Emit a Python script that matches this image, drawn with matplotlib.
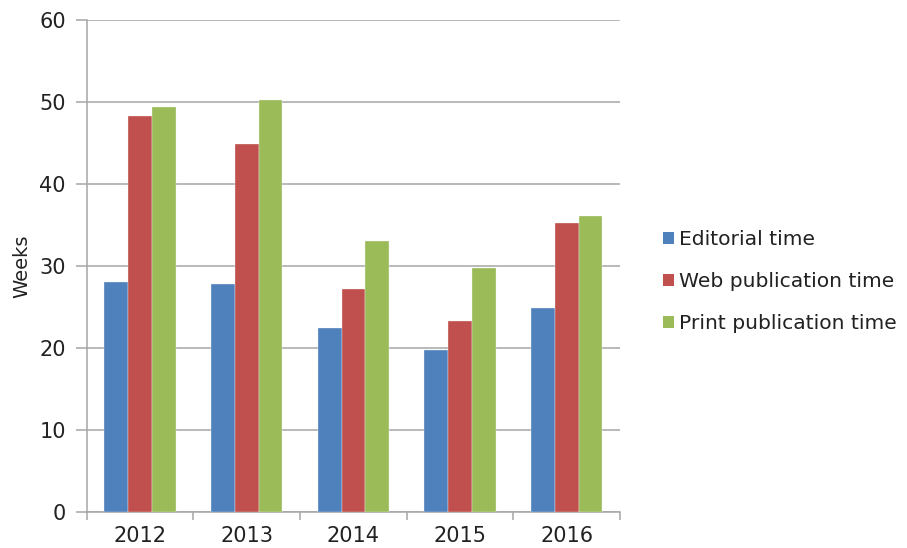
import numpy as np
import matplotlib
matplotlib.use("Agg")
import matplotlib.pyplot as plt
from matplotlib.patches import Patch

years = ["2012", "2013", "2014", "2015", "2016"]
editorial = [28.1, 27.9, 22.5, 19.8, 24.9]
web_pub = [48.3, 44.9, 27.2, 23.3, 35.3]
print_pub = [49.4, 50.3, 33.1, 29.8, 36.1]

series_names = ["Editorial time", "Web publication time", "Print publication time"]
colors = ["#4F81BD", "#C0504D", "#9BBB59"]

fig = plt.figure(figsize=(9.07, 5.48), dpi=100)
ax = fig.add_axes([0.0956, 0.0651, 0.588, 0.8979])

x = np.arange(len(years))
w = 1 / 4.5  # Excel gap width 150%
for i, (vals, c) in enumerate(zip([editorial, web_pub, print_pub], colors)):
    ax.bar(x + (i - 1) * w, vals, width=w, color=c, edgecolor="#f4f4f4",
           linewidth=0.25, zorder=3)

grid_col = "#A6A6A6"
txt_col = "#222222"
ax.set_xlim(-0.5, len(years) - 0.5)
ax.set_ylim(0, 60)
ax.set_yticks(range(0, 61, 10))
ax.yaxis.grid(True, color=grid_col, linewidth=1.1, zorder=0)

# category boundaries as ticks, labels in the middle
ax.set_xticks(np.arange(-0.5, len(years), 1.0))
ax.set_xticklabels([])
ax.set_xticks(x, minor=True)
ax.set_xticklabels(years, minor=True)
ax.tick_params(axis="x", which="minor", length=0, pad=10, labelsize=15, labelcolor=txt_col)
ax.tick_params(axis="x", which="major", length=6, color=grid_col, width=1.1)
ax.tick_params(axis="y", length=8, color=grid_col, width=1.1, pad=7, labelsize=15,
               labelcolor=txt_col)

for s in ["top", "right"]:
    ax.spines[s].set_visible(False)
for s in ["left", "bottom"]:
    ax.spines[s].set_color(grid_col)
    ax.spines[s].set_linewidth(1.1)

ax.set_ylabel("Weeks", fontsize=14, color=txt_col, labelpad=6)

handles = [Patch(facecolor=c, edgecolor="none") for c in colors]
fig.legend(handles, series_names, loc="center left", bbox_to_anchor=(0.711, 0.486),
           frameon=False, fontsize=14.6, handlelength=0.55, handleheight=0.55,
           handletextpad=0.25, labelspacing=1.12, labelcolor=txt_col)

fig.savefig("out.png", dpi=100)
